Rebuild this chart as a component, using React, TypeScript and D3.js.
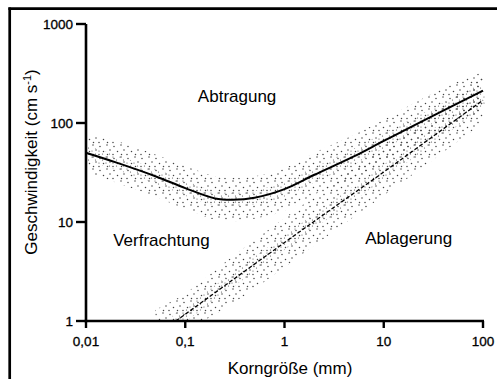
import React from "react";
import * as d3 from "d3";

// ---- data ----
const xTicks = [0.01, 0.1, 1, 10, 100];
const xTickLabels = ["0,01", "0,1", "1", "10", "100"];
const yTicks = [1, 10, 100, 1000];
const yTickLabels = ["1", "10", "100", "1000"];

// Erosion (Abtragung) threshold curve
const erosionGrain = [0.01, 0.02, 0.05, 0.1, 0.2, 0.3, 0.5, 1, 2, 5, 10, 20, 50, 100];
const erosionVelocity = [50, 40, 29, 22, 17.3, 16.8, 17.6, 21.5, 30, 46, 66, 94, 150, 212];
const erosionHigh = [80, 66, 48, 37, 29, 28, 29, 35, 50, 76, 108, 158, 250, 330];
const erosionLow = [32, 25, 18, 13.5, 10.5, 10.2, 10.8, 13, 19, 28, 40, 59, 93, 135];

// Deposition (Ablagerung) curve
const depositionGrain = [0.08, 0.1, 0.3, 1, 3, 10, 30, 100];
const depositionVelocity = [1, 1.17, 2.6, 6.2, 13.6, 32, 71, 170];
const depositionBandGrain = [0.05, 0.1, 0.3, 1, 3, 10, 30, 100];
const depositionHigh = [1.3, 1.9, 4.5, 11, 24, 57, 125, 290];
const depositionLow = [0.6, 0.8, 1.5, 3.5, 7.8, 18.5, 41, 100];

// Region labels (position in data units: grain size mm, velocity cm/s)
const regionLabels = ["Abtragung", "Verfrachtung", "Ablagerung"];
const regionX = [0.134, 0.0188, 6.5];
const regionY = [163, 5.7, 6.0];

const W = 497;
const H = 379;
const FONT = "'Liberation Sans', Arial, Helvetica, sans-serif";

export default function App() {
  const x = d3.scaleLog().domain([0.01, 100]).range([86, 483]);
  const y = d3.scaleLog().domain([1, 1000]).range([321, 24]);

  const line = d3
    .line<[number, number]>()
    .x((d) => x(d[0]))
    .y((d) => y(d[1]))
    .curve(d3.curveCatmullRom.alpha(0.5));

  const area = d3
    .area<[number, number, number]>()
    .x((d) => x(d[0]))
    .y0((d) => y(d[1]))
    .y1((d) => y(d[2]))
    .curve(d3.curveCatmullRom.alpha(0.5));

  const erosionPts = erosionGrain.map((g, i) => [g, erosionVelocity[i]] as [number, number]);
  const depositionPts = depositionGrain.map((g, i) => [g, depositionVelocity[i]] as [number, number]);
  const erosionBand = erosionGrain.map((g, i) => [g, erosionLow[i], erosionHigh[i]] as [number, number, number]);
  const depositionBand = depositionBandGrain.map(
    (g, i) => [g, depositionLow[i], depositionHigh[i]] as [number, number, number]
  );

  return (
    <svg
      width={W}
      height={H}
      style={{ position: "absolute", left: 0, top: 0, background: "#fff" }}
      fontFamily={FONT}
    >
      <defs>
        <pattern id="sparse" width={14} height={12} patternUnits="userSpaceOnUse">
          <circle cx={2} cy={2.5} r={0.75} fill="#444" />
          <circle cx={9} cy={1} r={0.75} fill="#444" />
          <circle cx={5.5} cy={7.5} r={0.75} fill="#444" />
          <circle cx={12} cy={6} r={0.75} fill="#444" />
          <circle cx={1} cy={10.5} r={0.75} fill="#444" />
          <circle cx={9.5} cy={10.5} r={0.75} fill="#444" />
        </pattern>
        <pattern id="dense" width={7} height={6} patternUnits="userSpaceOnUse">
          <circle cx={1} cy={1} r={0.6} fill="#555" />
          <circle cx={4.5} cy={4} r={0.6} fill="#555" />
        </pattern>
        <clipPath id="plot">
          <rect x={87} y={24} width={405} height={296} />
        </clipPath>
      </defs>

      {/* frame */}
      <line x1={9.7} y1={7.4} x2={9.7} y2={H} stroke="#000" strokeWidth={2.7} />
      <line x1={8.4} y1={8.7} x2={W} y2={8.7} stroke="#000" strokeWidth={2.7} />

      <g clipPath="url(#plot)">
        <path d={area(erosionBand) ?? ""} fill="url(#sparse)" />
        <path d={area(depositionBand) ?? ""} fill="url(#sparse)" />
        <path d={line(erosionPts) ?? ""} fill="none" stroke="url(#dense)" strokeWidth={14} />
        <path d={line(depositionPts) ?? ""} fill="none" stroke="url(#dense)" strokeWidth={12} />
        <path d={line(erosionPts) ?? ""} fill="none" stroke="#000" strokeWidth={2} />
        <path
          d={line(depositionPts) ?? ""}
          fill="none"
          stroke="#000"
          strokeWidth={1.3}
          strokeDasharray="4,2"
        />
      </g>

      {/* axes */}
      <line x1={86} y1={y(1000)} x2={86} y2={y(1) + 1.2} stroke="#000" strokeWidth={2.6} />
      <line x1={84.7} y1={y(1)} x2={x(100) + 1} y2={y(1)} stroke="#000" strokeWidth={2.6} />
      {yTicks.map((t, i) => (
        <g key={"y" + t}>
          <line x1={76} x2={86} y1={y(t)} y2={y(t)} stroke="#000" strokeWidth={2.4} />
          <text x={73} y={y(t)} dy="0.36em" textAnchor="end" fontSize={13.5} stroke="#000" strokeWidth={0.3}>
            {yTickLabels[i]}
          </text>
        </g>
      ))}
      {xTicks.map((t, i) => (
        <g key={"x" + t}>
          <line x1={x(t)} x2={x(t)} y1={y(1)} y2={y(1) + 7} stroke="#000" strokeWidth={2.4} />
          <text x={x(t)} y={346} textAnchor="middle" fontSize={13.5} stroke="#000" strokeWidth={0.3}>
            {xTickLabels[i]}
          </text>
        </g>
      ))}

      <text x={290} y={374} textAnchor="middle" fontSize={17}>
        Korngröße (mm)
      </text>
      <text transform="translate(37,162) rotate(-90)" textAnchor="middle" fontSize={17}>
        Geschwindigkeit (cm s
        <tspan dy={-6} fontSize={11}>-1</tspan>
        <tspan dy={6}>)</tspan>
      </text>

      {regionLabels.map((l, i) => (
        <text key={l} x={x(regionX[i])} y={y(regionY[i])} fontSize={17}>
          {l}
        </text>
      ))}
    </svg>
  );
}
